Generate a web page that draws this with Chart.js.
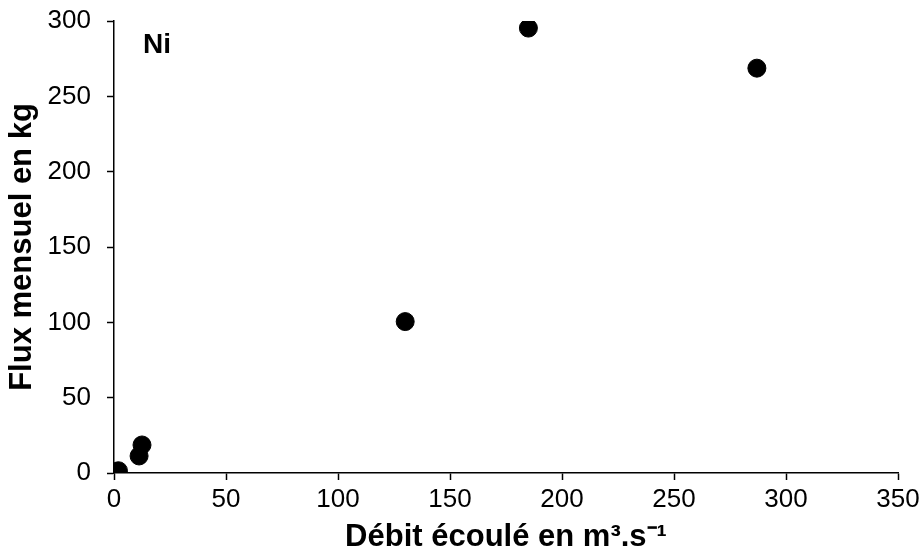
<!DOCTYPE html>
<html>
<head>
<meta charset="utf-8">
<script src="https://cdn.jsdelivr.net/npm/chart.js@4"></script>
<style>
  html, body { margin: 0; padding: 0; background: #fff; }
  #wrap { width: 924px; height: 558px; }
</style>
</head>
<body>
<div id="wrap"><canvas id="chart" width="924" height="558"></canvas></div>
<script>
// Débit (m3/s) et flux mensuel de nickel (kg)
const debit = [0.3, 0.8, 1.3, 2.0, 11.2, 12.5, 130, 185, 287];
const fluxNi = [0.2, 0.5, 0.8, 1.5, 11.3, 18.6, 100.5, 295.3, 268.7];
const xTicks = [0, 50, 100, 150, 200, 250, 300, 350];
const yTicks = [0, 50, 100, 150, 200, 250, 300];

const FONT = "'Liberation Sans', Arial, sans-serif";

// étiquette "Ni" en haut à gauche de la zone de tracé
const labelNi = {
    id: 'labelNi',
    afterDraw(chart) {
        const ctx = chart.ctx;
        const area = chart.chartArea;
        ctx.save();
        ctx.font = 'bold 28px ' + FONT;
        ctx.fillStyle = '#000';
        ctx.textBaseline = 'alphabetic';
        ctx.fillText('Ni', area.left + 29, area.top + 32);
        ctx.restore();
    }
};

const axisGrid = { display: true, drawOnChartArea: false, drawTicks: true, tickLength: 7, tickColor: '#000', tickWidth: 1.5 };

new Chart(document.getElementById('chart'), {
    type: 'scatter',
    data: {
        datasets: [{
            data: debit.map((x, i) => ({ x: x, y: fluxNi[i] })),
            backgroundColor: '#000',
            borderColor: '#000',
            pointRadius: 9,
            pointHoverRadius: 9
        }]
    },
    options: {
        responsive: false,
        animation: false,
        layout: { padding: { top: 21, right: 26, left: 0, bottom: 0 } },
        plugins: { legend: { display: false }, tooltip: { enabled: false } },
        scales: {
            x: {
                type: 'linear',
                min: 0, max: 350,
                afterBuildTicks: s => { s.ticks = xTicks.map(v => ({ value: v })); },
                afterFit: s => { s.height = 85; s.paddingLeft = 0; s.paddingRight = 0; },
                grid: axisGrid,
                border: { display: true, color: '#000', width: 1.5 },
                ticks: { color: '#000', font: { family: FONT, size: 26 }, padding: 4, maxRotation: 0 },
                title: { display: true, text: 'Débit écoulé en m³.s⁻¹', color: '#000', font: { family: FONT, size: 31, weight: 'bold' }, padding: { top: 0, bottom: 2 } }
            },
            y: {
                type: 'linear',
                min: 0, max: 300,
                afterBuildTicks: s => { s.ticks = yTicks.map(v => ({ value: v })); },
                afterFit: s => { s.width = 114; s.paddingTop = 0; s.paddingBottom = 0; },
                grid: axisGrid,
                border: { display: true, color: '#000', width: 1.5 },
                ticks: { color: '#000', font: { family: FONT, size: 26 }, padding: 16 },
                title: { display: true, text: 'Flux mensuel en kg', color: '#000', font: { family: FONT, size: 31, weight: 'bold' }, padding: { top: 4, bottom: 4 } }
            }
        }
    },
    plugins: [labelNi]
});
</script>
</body>
</html>
